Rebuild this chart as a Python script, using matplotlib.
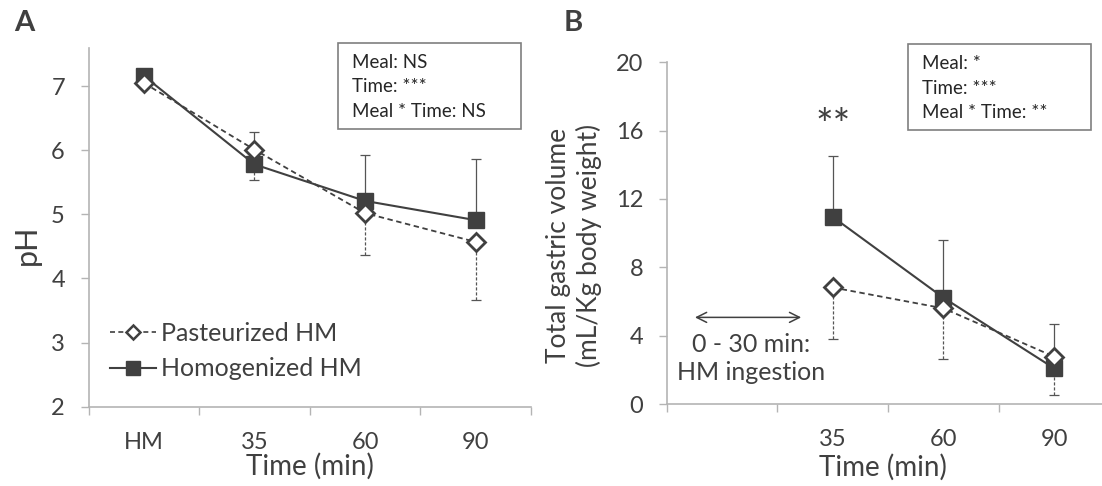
import matplotlib
matplotlib.use("Agg")
import matplotlib.pyplot as plt
from matplotlib.patches import Rectangle
from matplotlib.lines import Line2D
import numpy as np

plt.rcParams['font.family'] = ['Lato', 'DejaVu Sans']

# ---- data, panel A (pH) ----
cats_a = ["HM", "35", "60", "90"]
ph_past = [7.05, 6.01, 5.02, 4.57]
ph_past_lo = [0.0, 0.48, 0.65, 0.90]      # SD drawn downward only
ph_homo = [7.16, 5.78, 5.21, 4.91]
ph_homo_hi = [0.0, 0.51, 0.72, 0.96]      # SD drawn upward only

# ---- data, panel B (gastric volume) ----
cats_b = ["", "35", "60", "90"]
vol_x = [1, 2, 3]
vol_past = [6.82, 5.60, 2.77]
vol_past_lo = [3.02, 2.99, 2.24]
vol_homo = [10.95, 6.22, 2.09]
vol_homo_hi = [3.55, 3.37, 2.59]

stats_a = ["Meal: NS", "Time: ***", "Meal * Time: NS"]
stats_b = ["Meal: *", "Time: ***", "Meal * Time: **"]

W, H = 1102, 486
DARK = "#404040"
AXC = "#b4b4b4"
TXT = "#404040"


def fx(x):
    return x / W


def fy(y):
    return 1 - y / H


fig = plt.figure(figsize=(W / 100, H / 100), dpi=100)
axA = fig.add_axes([fx(88.5), fy(406.7), fx(531) - fx(88.5), (406.7 - 47.7) / H])
axB = fig.add_axes([fx(666.7), fy(404), fx(1109.5) - fx(666.7), (404 - 62.3) / H])

PAST_LS = (0, (3, 2))


def draw(ax, x, past, past_lo, homo, homo_hi):
    x = np.asarray(x)
    z = np.zeros(len(x))
    eb = ax.errorbar(x, past, yerr=[past_lo, z], fmt="none", ecolor="#555555",
                     elinewidth=0.9, capsize=3.5, capthick=0.9, zorder=2)
    for c in eb[2]:
        c.set_linestyle((0, (2.5, 1.5)))
    ax.errorbar(x, homo, yerr=[z, homo_hi], fmt="none", ecolor="#555555",
                elinewidth=0.9, capsize=3.5, capthick=0.9, zorder=2)
    ax.plot(x, past, linestyle=PAST_LS, color=DARK, lw=1.3,
            marker="D", ms=9, mfc="white", mec=DARK, mew=2, zorder=4)
    ax.plot(x, homo, linestyle="-", color=DARK, lw=1.5,
            marker="s", ms=11, mfc=DARK, mec=DARK, zorder=3)


def style(ax, labels, ylim, yticks):
    ax.set_xlim(-0.5, len(labels) - 0.5)
    ax.set_ylim(*ylim)
    ax.set_yticks(yticks)
    ax.set_xticks(np.arange(len(labels) + 1) - 0.5)
    ax.set_xticklabels([])
    ax.set_xticks(np.arange(len(labels)), minor=True)
    ax.set_xticklabels(labels, minor=True)
    for s in ["top", "right"]:
        ax.spines[s].set_visible(False)
    for s in ["left", "bottom"]:
        ax.spines[s].set_color(AXC)
        ax.spines[s].set_linewidth(1.2)
    ax.tick_params(axis="y", length=6, width=1, color=AXC, pad=11,
                   labelsize=17, labelcolor=TXT)
    ax.tick_params(axis="x", which="major", length=6, width=1, color=AXC)
    ax.tick_params(axis="x", which="minor", length=0, pad=18,
                   labelsize=17, labelcolor=TXT)


draw(axA, np.arange(len(cats_a)), ph_past, ph_past_lo, ph_homo, ph_homo_hi)
style(axA, cats_a, (2, 7.6), [2, 3, 4, 5, 6, 7])

draw(axB, vol_x, vol_past, vol_past_lo, vol_homo, vol_homo_hi)
style(axB, cats_b, (0, 20), [0, 4, 8, 12, 16, 20])

# legend in panel A (smaller markers than in the plot, as in the original)
h1 = Line2D([], [], linestyle=PAST_LS, color=DARK, lw=1.2, marker="D", ms=7,
            mfc="white", mec=DARK, mew=1.8)
h2 = Line2D([], [], linestyle="-", color=DARK, lw=1.5, marker="s", ms=10,
            mfc=DARK, mec=DARK)
fig.legend(handles=[h1, h2], labels=["Pasteurized HM", "Homogenized HM"],
           loc="center left", bbox_to_anchor=(fx(110), fy(351)),
           frameon=False, fontsize=18, handlelength=1.85, handletextpad=0.2,
           labelspacing=0.5, borderpad=0, borderaxespad=0, labelcolor=TXT)

# arrow and ingestion note in panel B
axB.annotate("", xy=(-0.27, 5.07), xytext=(0.74, 5.07),
             arrowprops=dict(arrowstyle="<->", color=DARK, lw=1.1,
                             mutation_scale=18))
axB.text(0.26, 2.65, "0 - 30 min:\nHM ingestion", ha="center", va="center",
         fontsize=18, color=TXT, linespacing=1.25)
axB.text(1.0, 16.2, "**", ha="center", va="center", fontsize=30, color=TXT)

# axis labels
fig.text(fx(27), fy(245), "pH", rotation=90, ha="center", va="center",
         fontsize=22, color=TXT)
fig.text(fx(310), fy(466), "Time (min)", ha="center", va="center",
         fontsize=20, color=TXT)
fig.text(fx(883), fy(467), "Time (min)", ha="center", va="center",
         fontsize=20, color=TXT)
fig.text(fx(574), fy(245), "Total gastric volume\n(mL/Kg body weight)",
         rotation=90, ha="center", va="center", fontsize=19, color=TXT,
         linespacing=1.2)

# panel letters
fig.text(fx(24), fy(23), "A", ha="center", va="center", fontsize=21,
         fontweight="bold", color=DARK)
fig.text(fx(573), fy(23), "B", ha="center", va="center", fontsize=21,
         fontweight="bold", color=DARK)


# statistics boxes
def stat_box(x0, y0, x1, y1, lines, tx):
    fig.patches.append(Rectangle((fx(x0), fy(y1)), fx(x1) - fx(x0), (y1 - y0) / H,
                                 transform=fig.transFigure, fill=False,
                                 edgecolor="#7f7f7f", lw=1.2))
    for i, s in enumerate(lines):
        fig.text(fx(tx), fy(y0 + 19.5 + i * 24.5), s, ha="left", va="center",
                 fontsize=13.5, color="#262626")


stat_box(338.3, 42.7, 520.7, 129.3, stats_a, 351.7)
stat_box(908.3, 44, 1090.7, 130, stats_b, 921.7)

fig.savefig("out.png", dpi=100, facecolor="white")
